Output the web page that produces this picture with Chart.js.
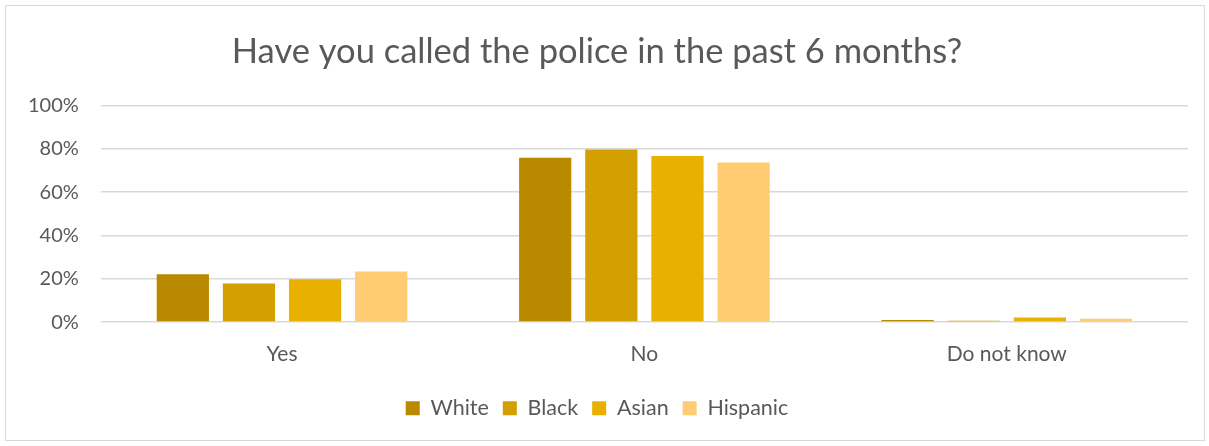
<!DOCTYPE html>
<html>
<head>
<meta charset="utf-8">
<script src="https://cdn.jsdelivr.net/npm/chart.js@4"></script>
<style>
  body { margin: 0; background: #fff; }
  #wrap { position: absolute; left: 5px; top: 5px; width: 1198px; height: 434px; border: 1px solid #d9d9d9; }
</style>
</head>
<body>
<div id="wrap"><canvas id="police"></canvas></div>
<script>
var categories = ['Yes', 'No', 'Do not know'];
var white = [22.1, 75.8, 1.0];
var black = [17.8, 79.7, 0.6];
var asian = [19.8, 76.6, 2.1];
var hispanic = [23.3, 73.6, 1.5];

var font = 'Lato, "Open Sans", sans-serif';
var grey = '#595959';

var ctx = document.getElementById('police');
var myChart = new Chart(ctx, {
    type: 'bar',
    data: {
        labels: categories,
        datasets: [
            { label: 'White', data: white, backgroundColor: '#b98900' },
            { label: 'Black', data: black, backgroundColor: '#d49f00' },
            { label: 'Asian', data: asian, backgroundColor: '#eab000' },
            { label: 'Hispanic', data: hispanic, backgroundColor: '#ffcb73' }
        ]
    },
    options: {
        responsive: true,
        maintainAspectRatio: false,
        animation: false,
        categoryPercentage: 0.73,
        barPercentage: 0.79,
        layout: { padding: { left: 0, right: 16, top: 15, bottom: 11 } },
        plugins: {
            title: {
                display: true,
                text: 'Have you called the police in the past 6 months?',
                color: grey,
                font: { family: font, size: 34.5, weight: 'normal' },
                padding: { top: 10, bottom: 33 }
            },
            legend: {
                position: 'bottom',
                // empty title only adds a little space above the legend items
                title: { display: true, text: ' ', font: { size: 1 }, padding: { top: 0, bottom: 3 } },
                labels: {
                    color: grey,
                    font: { family: font, size: 21.5 },
                    boxWidth: 14,
                    boxHeight: 14,
                    padding: 14
                }
            },
            tooltip: { enabled: false }
        },
        scales: {
            x: {
                grid: { display: false },
                border: { display: false },
                ticks: { color: grey, font: { family: font, size: 21 }, padding: 12 }
            },
            y: {
                min: 0,
                max: 100,
                ticks: {
                    stepSize: 20,
                    color: grey,
                    font: { family: font, size: 20 },
                    padding: 22,
                    callback: function (v) { return v + '%'; }
                },
                grid: { color: '#d9d9d9', lineWidth: 1.5, drawTicks: false },
                border: { display: false }
            }
        }
    }
});
</script>
</body>
</html>
